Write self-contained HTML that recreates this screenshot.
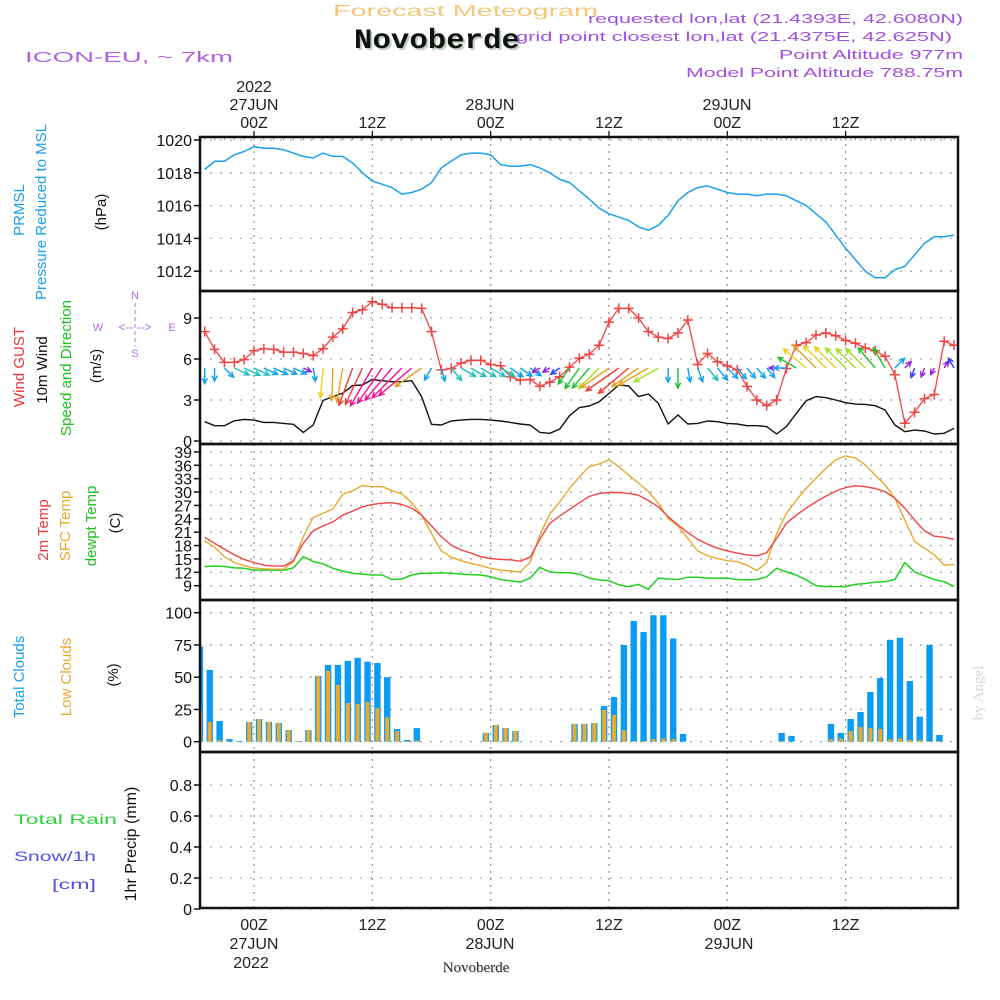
<!DOCTYPE html>
<html><head><meta charset="utf-8"><style>
html,body{margin:0;padding:0;background:#fff;}
svg{display:block;font-family:"Liberation Sans",sans-serif;}
</style></head><body>
<svg id="chart" width="1000" height="1000" viewBox="0 0 1000 1000" xmlns="http://www.w3.org/2000/svg">
<rect x="0" y="0" width="1000" height="1000" fill="#fff"/>
<g id="grid"></g>
<g id="marks"></g>
<g id="frames"></g>
<g id="labels" font-size="16" fill="#222">
  <text x="333" y="16" font-size="16" fill="#f2c87e" textLength="265" lengthAdjust="spacingAndGlyphs">Forecast Meteogram</text>
  <text x="356" y="50" font-family="Liberation Mono,monospace" font-weight="bold" font-size="28" fill="#c0d0c0" textLength="166" lengthAdjust="spacingAndGlyphs">Novoberde</text>
  <text x="354" y="48" font-family="Liberation Mono,monospace" font-weight="bold" font-size="28" fill="#111" textLength="166" lengthAdjust="spacingAndGlyphs">Novoberde</text>
  <text x="25" y="62" font-size="15" fill="#b060e0" textLength="208" lengthAdjust="spacingAndGlyphs">ICON-EU, ~ 7km</text>
  <text x="588" y="23" font-size="13" fill="#a050e0" textLength="375" lengthAdjust="spacingAndGlyphs">requested lon,lat (21.4393E, 42.6080N)</text>
  <text x="516" y="41" font-size="13" fill="#a050e0" textLength="436" lengthAdjust="spacingAndGlyphs">grid point closest lon,lat (21.4375E, 42.625N)</text>
  <text x="779" y="59" font-size="13" fill="#a050e0" textLength="184" lengthAdjust="spacingAndGlyphs">Point Altitude 977m</text>
  <text x="686" y="77" font-size="13" fill="#a050e0" textLength="277" lengthAdjust="spacingAndGlyphs">Model Point Altitude 788.75m</text>

  <g text-anchor="middle">
    <text x="254" y="92">2022</text>
    <text x="254" y="110">27JUN</text>
    <text x="490" y="110">28JUN</text>
    <text x="727" y="110">29JUN</text>
    <text x="254" y="949">27JUN</text>
    <text x="251" y="968">2022</text>
    <text x="490" y="949">28JUN</text>
    <text x="729" y="949">29JUN</text>
    <text x="477" y="973" font-family="Liberation Serif,serif" font-size="15" fill="#c8d0c8">Novoberde</text>
    <text x="476" y="972" font-family="Liberation Serif,serif" font-size="15" fill="#333">Novoberde</text>
  </g>

  <g font-size="15">
    <text transform="translate(24,210) rotate(-90)" text-anchor="middle" fill="#1aa0f0">PRMSL</text>
    <text transform="translate(46,212) rotate(-90)" text-anchor="middle" fill="#1aa0f0">Pressure Reduced to MSL</text>
    <text transform="translate(106,212) rotate(-90)" text-anchor="middle" fill="#111">(hPa)</text>
    <text transform="translate(24,367) rotate(-90)" text-anchor="middle" fill="#f03838">Wind GUST</text>
    <text transform="translate(47,370) rotate(-90)" text-anchor="middle" fill="#111">10m Wind</text>
    <text transform="translate(71,368) rotate(-90)" text-anchor="middle" fill="#20c020">Speed and Direction</text>
    <text transform="translate(101,366) rotate(-90)" text-anchor="middle" fill="#111">(m/s)</text>
    <text transform="translate(48,530) rotate(-90)" text-anchor="middle" fill="#f03838">2m Temp</text>
    <text transform="translate(70,526) rotate(-90)" text-anchor="middle" fill="#eaa830">SFC Temp</text>
    <text transform="translate(96,526) rotate(-90)" text-anchor="middle" fill="#20c020">dewpt Temp</text>
    <text transform="translate(120,523) rotate(-90)" text-anchor="middle" fill="#111">(C)</text>
    <text transform="translate(24,677) rotate(-90)" text-anchor="middle" fill="#1aa0f0">Total Clouds</text>
    <text transform="translate(71,677) rotate(-90)" text-anchor="middle" fill="#eaa830">Low Clouds</text>
    <text transform="translate(118,675) rotate(-90)" text-anchor="middle" fill="#111">(%)</text>
    <text transform="translate(136,844) rotate(-90)" text-anchor="middle" fill="#111" font-size="16">1hr Precip (mm)</text>
    <text x="14" y="824" font-size="14" fill="#30d040" textLength="103" lengthAdjust="spacingAndGlyphs">Total   Rain</text>
    <text x="14" y="861" font-size="14" fill="#5050f0" textLength="82" lengthAdjust="spacingAndGlyphs">Snow/1h</text>
    <text x="52" y="889" font-size="14" fill="#5050f0" textLength="44" lengthAdjust="spacingAndGlyphs">[cm]</text>
    <text transform="translate(983,693) rotate(-90)" text-anchor="middle" font-family="Liberation Serif,serif" fill="#d8d8d8">by Angel</text>
  </g>
  <g font-size="11" fill="#b070e0" text-anchor="middle">
    <text x="135" y="299">N</text>
    <text x="135" y="357">S</text>
    <text x="98" y="331">W</text>
    <text x="172" y="331">E</text>
    <text x="135" y="331" font-size="12">&lt;-- --&gt;</text>
    <line x1="135" y1="303" x2="135" y2="346" stroke="#b070e0" stroke-width="1" stroke-dasharray="4,3"/>
  </g>
</g>
</svg>
<script>
// ---- data (hours from 00Z 27JUN, t = -5 .. 71) ----
const hourStart = -5;
const pressure = [1018.2,1018.7,1018.7,1019.1,1019.3,1019.6,1019.5,1019.5,1019.4,1019.2,
1019.0,1018.9,1019.2,1019.0,1019.0,1018.6,1018.0,1017.5,1017.3,1017.1,
1016.7,1016.8,1017.0,1017.4,1018.3,1018.7,1019.1,1019.2,1019.2,1019.1,
1018.5,1018.4,1018.4,1018.5,1018.3,1018.0,1017.6,1017.4,1016.9,1016.4,
1015.85,1015.5,1015.3,1015.1,1014.7,1014.5,1014.8,1015.4,1016.3,1016.8,
1017.1,1017.2,1017.0,1016.8,1016.7,1016.7,1016.6,1016.7,1016.7,1016.6,
1016.3,1016.0,1015.5,1015.0,1014.2,1013.4,1012.7,1012.0,1011.6,1011.6,
1012.1,1012.3,1013.0,1013.7,1014.1,1014.1,1014.2];
const windGust = [8.0,6.7,5.75,5.75,5.95,6.6,6.75,6.7,6.5,6.5,
6.4,6.25,6.75,7.6,8.2,9.4,9.6,10.2,10.0,9.75,
9.75,9.75,9.7,8.0,5.2,5.3,5.7,5.9,5.9,5.6,
5.5,4.7,4.45,4.5,4.0,4.3,4.7,5.4,6.05,6.35,
7.0,8.7,9.7,9.7,9.0,8.0,7.6,7.5,7.9,8.85,
5.6,6.4,5.8,5.5,5.2,4.0,3.0,2.6,3.0,5.3,
7.0,7.2,7.75,7.9,7.7,7.35,7.15,6.8,6.6,6.2,
4.85,1.3,2.1,3.1,3.4,7.3,7.0];
const windSpeed = [1.41,1.12,1.12,1.48,1.58,1.53,1.36,1.36,1.29,1.22,
0.63,1.17,2.96,3.25,3.5,4.05,4.1,4.5,4.41,4.34,
4.34,4.41,3.25,1.22,1.17,1.46,1.53,1.58,1.58,1.53,
1.46,1.36,1.24,1.17,0.63,0.56,0.87,1.85,2.44,2.56,
2.87,3.48,4.09,4.02,3.25,3.44,2.76,1.24,1.9,1.24,
1.29,1.46,1.41,1.29,1.24,1.12,1.12,1.05,0.51,1.05,
2.02,2.95,3.25,3.17,3.0,2.8,2.7,2.68,2.58,2.27,
1.17,0.68,0.8,0.73,0.51,0.56,0.92];
const windDir = [180,180,135,115,115,115,115,115,115,115,
115,170,185,182,190,200,205,210,215,220,
225,230,235,210,165,140,120,120,120,120,
120,125,125,125,240,240,235,215,215,220,
225,235,235,230,235,240,240,180,180,170,
160,140,140,135,140,140,140,140,270,270,
300,310,315,315,315,315,315,315,320,330,
45,45,200,200,210,30,330];
const temp2m = [19.85,18.5,17.2,15.9,14.9,14.2,13.6,13.4,13.4,14.6,
18.5,21.3,22.4,23.3,24.8,25.7,26.7,27.2,27.5,27.6,
27.2,26.4,24.8,22.4,20.0,18.1,17.0,16.3,15.5,15.1,
14.9,14.8,14.5,15.4,19.4,23.0,24.6,26.1,27.6,29.0,
29.7,29.9,29.9,29.7,29.3,28.1,26.7,24.5,22.6,20.9,
19.4,18.3,17.4,16.8,16.3,15.9,15.7,16.4,19.6,23.0,
24.8,26.4,27.8,29.1,30.2,31.0,31.4,31.2,30.8,30.1,
28.6,26.4,23.7,21.3,20.1,19.85,19.4];
const tempSfc = [19.1,17.6,15.5,14.2,13.5,13.0,12.8,12.7,12.7,14.4,
20.0,24.3,25.2,26.2,29.5,30.3,31.5,31.2,31.2,30.3,
29.6,27.6,24.8,20.7,16.8,15.4,14.6,14.0,13.5,12.9,
12.5,12.3,12.1,14.2,20.4,25.1,27.8,30.8,33.4,35.7,
36.3,37.2,35.7,33.8,32.0,30.1,27.5,24.1,22.4,19.6,
16.8,15.7,15.1,14.6,14.4,13.6,12.4,14.2,20.7,25.2,
28.2,30.8,33.1,35.3,37.2,38.1,37.6,36.1,33.8,31.6,
28.6,23.7,18.9,17.4,15.9,13.6,13.8];
const tempDew = [13.3,13.4,13.3,13.0,12.9,12.5,12.5,12.5,12.5,13.0,
15.5,14.4,13.9,12.9,12.3,11.8,11.6,11.4,11.4,10.4,
10.5,11.4,11.8,11.8,11.9,11.8,11.6,11.5,11.4,11.0,
10.4,10.1,9.8,10.7,13.1,12.1,11.9,11.9,11.6,10.7,
10.3,10.1,9.2,8.8,9.3,8.2,10.7,10.5,10.4,10.9,
10.9,10.7,10.7,10.7,10.4,10.3,10.4,11.0,12.9,12.1,
11.4,10.3,9.0,8.8,8.8,8.8,9.3,9.5,9.8,9.9,
10.4,14.2,12.1,11.2,10.4,9.9,8.8];
const totalClouds = [73.6,55.6,16,2,0.5,15.3,17.6,15.3,14.5,9,
0.5,9,51,59.5,59.5,62.6,65,62,61,50,
9.8,1.3,10.5,0,0,0,0,0,0,6.8,
13,10.5,8.3,0,0,0,0,0,13.8,13.8,
14.5,27.7,34.6,75,93.6,85,98,98,80,6,
0,0,0,0,0,0,0,0,0,6.8,
4.5,0,0,0,13.8,6.8,17.6,23,38.5,49.4,
79,80.6,47,19.4,75,5.2,0];
const lowClouds = [25,15.3,1.3,0.3,0,15.3,17.6,15.3,14.5,9,
0.3,9,51,55,44,30,29.3,30.8,26,19,
8.3,0.5,1,0,0,0,0,0,0,6.8,
13,10.5,8.3,0,0,0,0,0,13.8,13.8,
14.5,24.6,20.7,9,0.5,0.5,2,2.5,2,0,
0,0,0,0,0,0,0,0,0,0.5,
0,0,0,0,2,2.5,8.3,11.4,10.5,9.8,
2,2.5,1.5,1.5,0.5,0.5,0];
const precip = [];
const pressureTicks = [1012,1014,1016,1018,1020];
const windTicks = [0,3,6,9];
const tempTicks = [9,12,15,18,21,24,27,30,33,36,39];
const cloudTicks = [0,25,50,75,100];
const precipTicks = [0,0.2,0.4,0.6,0.8];
const majorHours = [0,12,24,36,48,60];
const majorLabels = ["00Z","12Z","00Z","12Z","00Z","12Z"];

// ---- axis functions ----
const X0 = 200, X1 = 958;
const xT = t => 254 + 9.86 * t;
const yP = v => 140 + (1020 - v) * 16.4;
const yW = v => 441 - v * 13.67;
const yT = v => 585.7 - (v - 9) * 4.46;
const yC = v => 741.7 - v * 1.29;
const yR = v => 909 - v * 155;
const panels = [[137,291],[291,444],[444,600],[600,752],[752,908]];

const NS = "http://www.w3.org/2000/svg";
function mk(tag, attrs, parent) {
  const e = document.createElementNS(NS, tag);
  for (const k in attrs) e.setAttribute(k, attrs[k]);
  parent.appendChild(e);
  return e;
}
const grid = document.getElementById('grid');
const marks = document.getElementById('marks');
const frames = document.getElementById('frames');
const labels = document.getElementById('labels');

majorHours.forEach(h => {
  panels.forEach(p => {
    const l = mk('line', {x1: xT(h), x2: xT(h), y1: p[0], y2: p[1], stroke: '#999', 'stroke-width': 1.3, 'stroke-dasharray': '2,5'}, grid);
    
    
  });
});
function yAxis(ticks, fy, name, fmt) {
  ticks.forEach(v => {
    const y = fy(v);
    const g = mk('line', {x1: X0, x2: X1, y1: y, y2: y, stroke: '#aaa', 'stroke-width': 1.3, 'stroke-dasharray': '2,8'}, grid);
    
    
    mk('line', {x1: X0 - 6, x2: X0, y1: y, y2: y, stroke: '#111', 'stroke-width': 1.5}, frames);
    const t = mk('text', {x: X0 - 8, y: y + 6, 'text-anchor': 'end', 'font-size': 16, fill: '#111'}, labels);
    
    
    t.textContent = fmt ? fmt(v) : String(v);
  });
}
yAxis(pressureTicks, yP, 'pressure');
yAxis(windTicks, yW, 'wind');
yAxis(tempTicks, yT, 'temp');
yAxis(cloudTicks, yC, 'cloud');
yAxis(precipTicks, yR, 'precip');

majorHours.forEach((h, i) => {
  const t1 = mk('text', {x: xT(h), y: 128, 'text-anchor': 'middle', 'font-size': 16, fill: '#222'}, labels);
  
  
  t1.textContent = majorLabels[i];
  const t2 = mk('text', {x: xT(h), y: 930, 'text-anchor': 'middle', 'font-size': 16, fill: '#222'}, labels);
  
  
  t2.textContent = majorLabels[i];
  mk('line', {x1: xT(h), x2: xT(h), y1: 131, y2: 137, stroke: '#111', 'stroke-width': 1.3}, frames);
});
for (let h = -5; h <= 71; h++) {
  mk('line', {x1: xT(h), x2: xT(h), y1: 137, y2: 140, stroke: '#888', 'stroke-width': 1}, frames);
}

panels.forEach((p, i) => {
  const r = mk('rect', {x: X0, y: p[0], width: X1 - X0, height: p[1] - p[0], fill: 'none', stroke: '#111', 'stroke-width': 2.5}, frames);
  
  
});

const clip = mk('clipPath', {id: 'plotclip'}, marks);
mk('rect', {x: X0, y: 137, width: X1 - X0, height: 771}, clip);
const plot = mk('g', {'clip-path': 'url(#plotclip)'}, marks);

function series(arr, fy, color, name, w) {
  const pts = arr.map((v, i) => xT(hourStart + i).toFixed(1) + ',' + fy(v).toFixed(1)).join(' ');
  const pl = mk('polyline', {points: pts, fill: 'none', stroke: color, 'stroke-width': w || 1.4, 'stroke-linejoin': 'round'}, plot);
  
  
  return pl;
}

totalClouds.forEach((v, i) => {
  const cx = xT(hourStart + i) - 4.8;
  if (v > 0) {
    const b = mk('rect', {x: cx - 3.2, y: yC(v), width: 6.4, height: yC(0) - yC(v), fill: '#0a9cf5'}, plot);
    
    
  }
  const lv = lowClouds[i];
  if (lv > 0) {
    const b2 = mk('rect', {x: cx - 2, y: yC(lv), width: 4, height: yC(0) - yC(lv), fill: '#e8aa30'}, plot);
    
    
  }
});

series(pressure, yP, '#1aa0f0', 'pressure-line', 1.5);
series(windSpeed, yW, '#111', 'wind-speed-line', 1.4);
series(windGust, yW, '#f04545', 'wind-gust-line', 1.3);
windGust.forEach((v, i) => {
  const x = xT(hourStart + i), y = yW(v);
  const m = mk('path', {d: `M${x-5},${y}H${x+5}M${x},${y-5}V${y+5}`, stroke: '#f04545', 'stroke-width': 1.5}, plot);
  
  
});

function speedColor(s) {
  if (s < 0.75) return '#9020e0';
  if (s < 1.0) return '#3040f0';
  if (s < 1.45) return '#10a0f0';
  if (s < 1.7) return '#20c0c0';
  if (s < 2.6) return '#20c030';
  if (s < 2.9) return '#a0e020';
  if (s < 3.2) return '#e8d020';
  if (s < 3.8) return '#e8a020';
  if (s < 4.3) return '#f03838';
  return '#f0108f';
}
windDir.forEach((d, i) => {
  const s = windSpeed[i];
  const len = 9 * s + 3;
  const a = d * Math.PI / 180;
  const x1 = xT(hourStart + i), y1 = 368;
  const x2 = x1 + len * Math.sin(a), y2 = y1 - len * Math.cos(a);
  const h1 = a + Math.PI - 0.45, h2 = a + Math.PI + 0.45;
  const c = speedColor(s);
  const p = mk('path', {d: `M${x1},${y1}L${x2},${y2}M${x2+6*Math.sin(h1)},${y2-6*Math.cos(h1)}L${x2},${y2}L${x2+6*Math.sin(h2)},${y2-6*Math.cos(h2)}`, stroke: c, 'stroke-width': 1.4, fill: 'none'}, plot);
  
  
});

series(tempDew, yT, '#20d020', 'dewpoint-line', 1.5);
series(tempSfc, yT, '#eaa830', 'sfc-temp-line', 1.4);
series(temp2m, yT, '#f04545', 'temp-2m-line', 1.4);
</script>
</body></html>
